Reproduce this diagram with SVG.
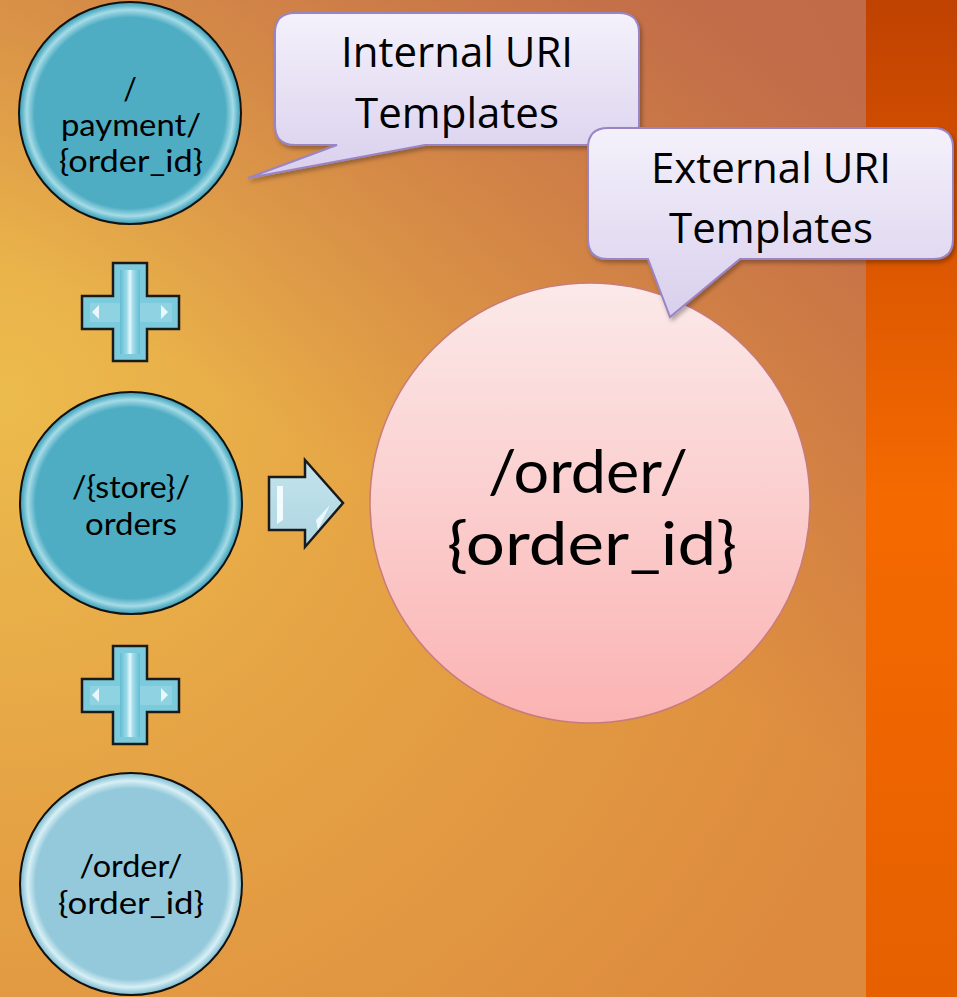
<svg xmlns="http://www.w3.org/2000/svg" width="957" height="997" viewBox="0 0 957 997">
<defs>
<radialGradient id="bg" cx="0" cy="400" r="950" gradientUnits="userSpaceOnUse">
<stop offset="0" stop-color="#ecbb4d"/>
<stop offset="0.45" stop-color="#e5a244"/>
<stop offset="1" stop-color="#dd8a3e"/>
</radialGradient>
<linearGradient id="bgTop" x1="700" y1="0" x2="400" y2="500" gradientUnits="userSpaceOnUse">
<stop offset="0" stop-color="#b8604c" stop-opacity="0.75"/>
<stop offset="1" stop-color="#b8604c" stop-opacity="0"/>
</linearGradient>
<linearGradient id="band" x1="0" y1="0" x2="0" y2="997" gradientUnits="userSpaceOnUse">
<stop offset="0" stop-color="#c04200"/>
<stop offset="0.5" stop-color="#f56a00"/>
<stop offset="1" stop-color="#e66000"/>
</linearGradient>
<radialGradient id="teal" cx="0.5" cy="0.5" r="0.5">
<stop offset="0" stop-color="#4eadc3"/>
<stop offset="0.86" stop-color="#4eadc3"/>
<stop offset="0.93" stop-color="#a6dbe7"/>
<stop offset="0.97" stop-color="#5fb6ca"/>
<stop offset="1" stop-color="#3f9cb2"/>
</radialGradient>
<radialGradient id="lteal" cx="0.5" cy="0.5" r="0.5">
<stop offset="0" stop-color="#93c9da"/>
<stop offset="0.86" stop-color="#93c9da"/>
<stop offset="0.93" stop-color="#d8eff5"/>
<stop offset="0.97" stop-color="#9fd0df"/>
<stop offset="1" stop-color="#7fb9cb"/>
</radialGradient>
<linearGradient id="pink" x1="0" y1="0" x2="0" y2="1">
<stop offset="0" stop-color="#fbe9e9"/>
<stop offset="1" stop-color="#fbb3b3"/>
</linearGradient>
<linearGradient id="callFill" x1="0" y1="0" x2="0" y2="1">
<stop offset="0" stop-color="#f4f1fb"/>
<stop offset="1" stop-color="#d9cfed"/>
</linearGradient>
<linearGradient id="plusV" x1="0" y1="0" x2="1" y2="0">
<stop offset="0" stop-color="#62bdd3"/>
<stop offset="0.35" stop-color="#9fdbe9"/>
<stop offset="0.5" stop-color="#e6f8fc"/>
<stop offset="0.65" stop-color="#9fdbe9"/>
<stop offset="1" stop-color="#62bdd3"/>
</linearGradient>
<linearGradient id="arrowFill" x1="0" y1="0" x2="0" y2="1">
<stop offset="0" stop-color="#c4e3ec"/>
<stop offset="1" stop-color="#aed6e2"/>
</linearGradient>
<filter id="shadow" x="-10%" y="-10%" width="125%" height="135%">
<feDropShadow dx="2" dy="3" stdDeviation="2" flood-color="#000" flood-opacity="0.3"/>
</filter>
<style>
.t{font-family:"Open Sans","Liberation Sans",sans-serif;fill:#000;text-anchor:middle}
.small{font-family:Lato,"Open Sans",sans-serif;font-size:30px}
.call{font-size:42px}
.big{font-family:Lato,"Open Sans",sans-serif;font-size:60px}
.node{stroke:#111;stroke-width:2}
.callout{fill:url(#callFill);stroke:#9985c4;stroke-width:2;filter:url(#shadow)}
.op{stroke:#1a1a1a;stroke-width:2.5;stroke-linejoin:miter}
</style>
</defs>

<g id="background">
<rect x="0" y="0" width="957" height="997" fill="url(#bg)"/>
<rect x="0" y="0" width="957" height="997" fill="url(#bgTop)"/>
<rect x="866" y="0" width="91" height="997" fill="url(#band)"/>
</g>

<g id="node-payment">
<circle class="node" cx="130" cy="113" r="111" fill="url(#teal)"/>
<text class="t small" x="130" y="100">/</text>
<text class="t small" x="131" y="136" textLength="140" lengthAdjust="spacingAndGlyphs">payment/</text>
<text class="t small" x="131" y="172" textLength="144" lengthAdjust="spacingAndGlyphs">{order_id}</text>
</g>

<g id="node-store">
<circle class="node" cx="131" cy="503" r="111" fill="url(#teal)"/>
<text class="t small" x="131" y="498" textLength="118" lengthAdjust="spacingAndGlyphs">/{store}/</text>
<text class="t small" x="131" y="535" textLength="92" lengthAdjust="spacingAndGlyphs">orders</text>
</g>

<g id="node-order-small">
<circle class="node" cx="131" cy="884" r="111" fill="url(#lteal)"/>
<text class="t small" x="131" y="877" textLength="103" lengthAdjust="spacingAndGlyphs">/order/</text>
<text class="t small" x="131" y="914" textLength="146" lengthAdjust="spacingAndGlyphs">{order_id}</text>
</g>

<g id="node-order-big">
<circle cx="590" cy="503" r="220" fill="url(#pink)" stroke="#c77b7b" stroke-width="1.5"/>
<text class="t big" x="588" y="493" textLength="200" lengthAdjust="spacingAndGlyphs">/order/</text>
<text class="t big" x="592" y="565" textLength="290" lengthAdjust="spacingAndGlyphs">{order_id}</text>
</g>

<g id="plus-1">
<path class="op" d="M113,263 H147 V296 H179 V329 H147 V361 H113 V329 H82 V296 H113 Z" fill="#7ccbdd"/>
<path d="M90,303 H172 V322 H90 Z" fill="#8fd3e3"/>
<path d="M120,270 H140 V354 H120 Z" fill="url(#plusV)"/>
<path d="M92,312 L99,305 V319 Z M168,312 L161,305 V319 Z" fill="#e8f8fc"/>
</g>

<g id="plus-2">
<path class="op" d="M113,646 H147 V679 H179 V712 H147 V744 H113 V712 H82 V679 H113 Z" fill="#7ccbdd"/>
<path d="M90,686 H172 V705 H90 Z" fill="#8fd3e3"/>
<path d="M120,653 H140 V737 H120 Z" fill="url(#plusV)"/>
<path d="M92,695 L99,688 V702 Z M168,695 L161,688 V702 Z" fill="#e8f8fc"/>
</g>

<g id="connectors">
<path class="op" d="M269,477 H305 V460 L343,503 L305,547 V530 H269 Z" fill="url(#arrowFill)"/>
<path d="M277,486 L283,486 V520 L277,524 Z" fill="#f2fbfd"/>
<path d="M316,520 L330,505 L318,530 Z" fill="#eaf7fb"/>
</g>

<g id="callout-internal">
<path class="callout" d="M295,13 H619 Q639,13 639,33 V125 Q639,145 619,145 H425 L248,178 L337,145 H295 Q275,145 275,125 V33 Q275,13 295,13 Z"/>
<text class="t call" x="457" y="67">Internal URI</text>
<text class="t call" x="457" y="128">Templates</text>
</g>

<g id="callout-external">
<path class="callout" d="M608,128 H933 Q953,128 953,148 V239 Q953,259 933,259 H740 L670,317 L648,259 H608 Q588,259 588,239 V148 Q588,128 608,128 Z"/>
<text class="t call" x="771" y="183">External URI</text>
<text class="t call" x="771" y="243">Templates</text>
</g>
</svg>
